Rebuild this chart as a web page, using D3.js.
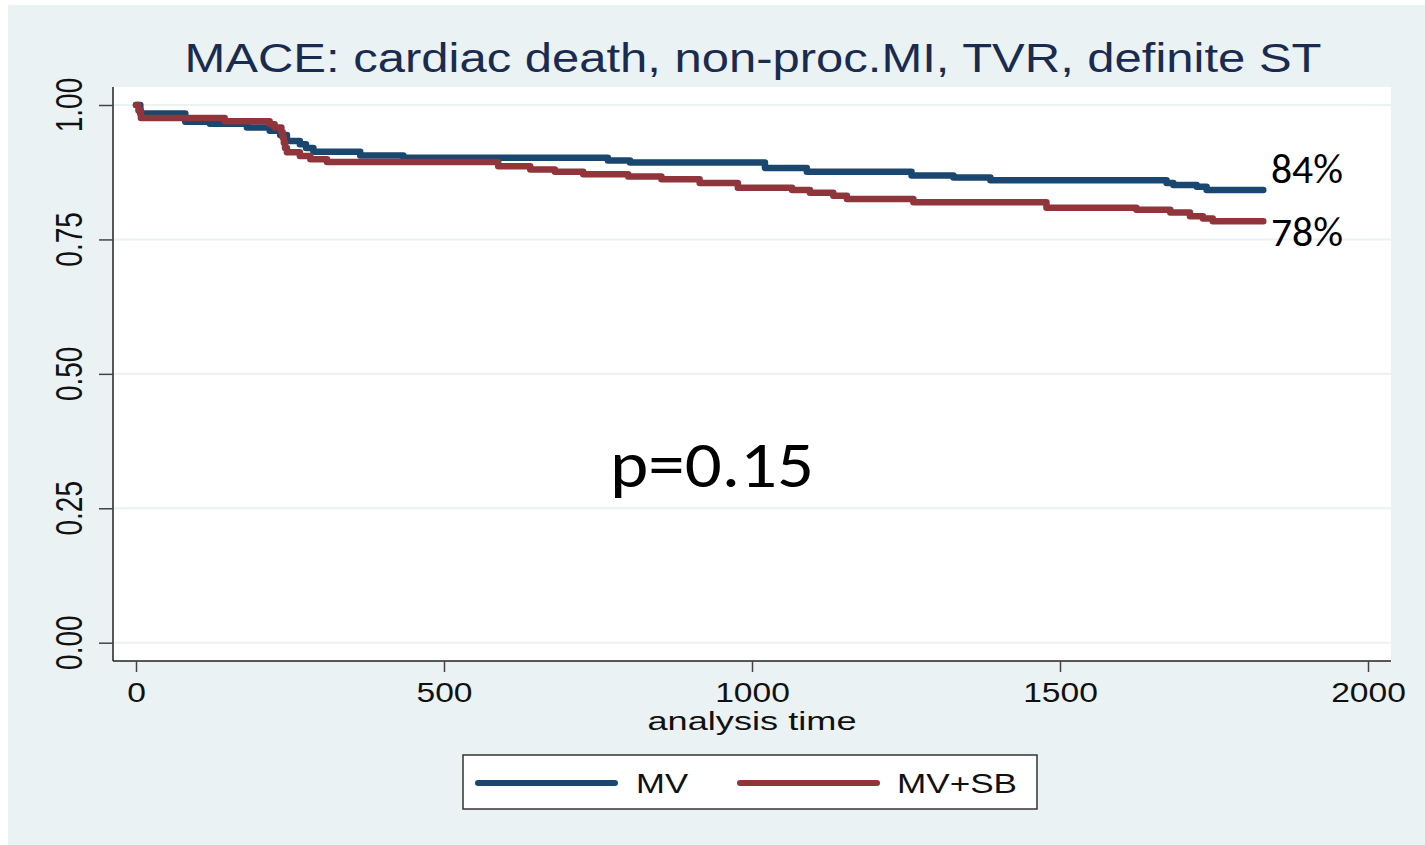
<!DOCTYPE html>
<html lang="en">
<head>
  <meta charset="UTF-8">
  <title>MACE Kaplan-Meier</title>
  <style>
    body { margin: 0; background: #fff; }
    .axis text { font-family: "Liberation Sans", Arial, sans-serif; fill: #111; }
  </style>
</head>
<body>
  <svg width="1425" height="845"></svg>
  <script src="https://cdn.jsdelivr.net/npm/d3@7"></script>
  <script>
    // data (step points: time, survival)
    var seriesNames = ["MV", "MV+SB"];
    var seriesColors = ["#1a476f", "#90353b"];

    var mvTime = [0, 7, 80, 120, 180, 217, 234, 245, 266, 276, 288, 364, 434, 766, 802, 1021, 1089, 1259, 1327, 1387, 1673, 1684, 1722, 1738, 1830];
    var mvSurv = [1.0, 0.984, 0.969, 0.965, 0.958, 0.952, 0.944, 0.933, 0.927, 0.92, 0.913, 0.906, 0.902, 0.897, 0.893, 0.883, 0.876, 0.869, 0.865, 0.86, 0.855, 0.851, 0.848, 0.842, 0.842];

    var sbTime = [0, 4, 8, 144, 217, 225, 236, 238, 240, 242, 245, 266, 283, 310, 588, 640, 680, 726, 799, 853, 915, 977, 1065, 1094, 1132, 1154, 1262, 1478, 1624, 1679, 1711, 1732, 1748, 1830];
    var sbSurv = [1.0, 0.99, 0.976, 0.97, 0.964, 0.958, 0.95, 0.94, 0.93, 0.92, 0.912, 0.905, 0.899, 0.894, 0.886, 0.88, 0.876, 0.871, 0.867, 0.862, 0.855, 0.846, 0.842, 0.837, 0.831, 0.825, 0.819, 0.809, 0.805, 0.8, 0.793, 0.789, 0.784, 0.784];

    var xTicks = [0, 500, 1000, 1500, 2000];
    var yTicks = [0, 0.25, 0.5, 0.75, 1];
    var endLabels = ["84%", "78%"];
    var pText = "p=0.15";
    var title = "MACE: cardiac death, non-proc.MI, TVR, definite ST";
    var xTitle = "analysis time";

    var svg = d3.select("svg");

    // graph region background
    svg.append("rect").attr("x", 8).attr("y", 5).attr("width", 1417).attr("height", 840).attr("fill", "#eaf2f3");

    var x = d3.scaleLinear().domain([0, 2000]).range([136, 1368]);
    var y = d3.scaleLinear().domain([0, 1]).range([642.7, 105]);

    var plot = {left: 113, right: 1391, top: 87, bottom: 661};

    // plot region
    svg.append("rect")
      .attr("x", plot.left).attr("y", plot.top)
      .attr("width", plot.right - plot.left).attr("height", plot.bottom - plot.top)
      .attr("fill", "#fff");

    // gridlines
    svg.append("g").selectAll("line")
      .data(yTicks)
      .enter().append("line")
      .attr("x1", plot.left).attr("x2", plot.right)
      .attr("y1", function(d) { return y(d); })
      .attr("y2", function(d) { return y(d); })
      .attr("stroke", "#eaf2f3").attr("stroke-width", 2);

    // x axis
    var gx = svg.append("g")
      .attr("class", "axis")
      .attr("transform", "translate(0," + plot.bottom + ")")
      .call(d3.axisBottom(x).tickValues(xTicks).tickSize(11).tickPadding(10).tickFormat(d3.format("d")));
    gx.select(".domain").attr("d", "M" + plot.left + ",0H" + plot.right).attr("stroke", "#222").attr("stroke-width", 1.5);
    gx.selectAll(".tick line").attr("stroke", "#444").attr("stroke-width", 1.5);
    gx.selectAll(".tick text")
      .attr("font-size", 28)
      .attr("transform", "scale(1.2,1)");

    // y axis
    var gy = svg.append("g")
      .attr("class", "axis")
      .attr("transform", "translate(" + plot.left + ",0)")
      .call(d3.axisLeft(y).tickValues(yTicks).tickSize(14).tickFormat(""));
    gy.select(".domain").attr("d", "M0," + plot.top + "V" + plot.bottom).attr("stroke", "#222").attr("stroke-width", 1.5);
    gy.selectAll(".tick line").attr("stroke", "#444").attr("stroke-width", 1.5);

    svg.append("g").attr("class", "axis").selectAll("text")
      .data(yTicks)
      .enter().append("text")
      .attr("transform", function(d) { return "translate(82," + y(d) + ") scale(1.33,1) rotate(-90)"; })
      .attr("text-anchor", "middle")
      .attr("font-size", 28)
      .text(d3.format(".2f"));

    // title
    svg.append("text")
      .attr("x", 753).attr("y", 72)
      .attr("text-anchor", "middle")
      .attr("font-family", "Liberation Sans, Arial, sans-serif")
      .attr("font-size", 40)
      .attr("fill", "#1a2b50")
      .attr("textLength", 1137).attr("lengthAdjust", "spacingAndGlyphs")
      .text(title);

    // x title
    svg.append("text")
      .attr("x", 752).attr("y", 730)
      .attr("text-anchor", "middle")
      .attr("font-family", "Liberation Sans, Arial, sans-serif")
      .attr("font-size", 26)
      .attr("fill", "#111")
      .attr("textLength", 209).attr("lengthAdjust", "spacingAndGlyphs")
      .text(xTitle);

    // survival curves
    var series = [
      {name: seriesNames[0], color: seriesColors[0], pts: d3.zip(mvTime, mvSurv)},
      {name: seriesNames[1], color: seriesColors[1], pts: d3.zip(sbTime, sbSurv)}
    ];

    var line = d3.line()
      .x(function(d) { return x(d[0]); })
      .y(function(d) { return y(d[1]); })
      .curve(d3.curveStepAfter);

    svg.append("g").selectAll("path")
      .data(series)
      .enter().append("path")
      .attr("d", function(d) { return line(d.pts); })
      .attr("fill", "none")
      .attr("stroke", function(d) { return d.color; })
      .attr("stroke-width", 6.5)
      .attr("stroke-linejoin", "round")
      .attr("stroke-linecap", "round");

    // end labels
    svg.append("g").selectAll("text")
      .data(series)
      .enter().append("text")
      .attr("x", 1271)
      .attr("y", function(d, i) { return i === 0 ? 183 : 246; })
      .attr("font-family", "Carlito, Calibri, Lato, sans-serif")
      .attr("font-size", 40)
      .attr("fill", "#000")
      .attr("textLength", 72).attr("lengthAdjust", "spacingAndGlyphs")
      .text(function(d, i) { return endLabels[i]; });

    svg.append("text")
      .attr("x", 610).attr("y", 487)
      .attr("font-family", "Carlito, Calibri, Lato, sans-serif")
      .attr("font-size", 66)
      .attr("fill", "#000")
      .attr("textLength", 204).attr("lengthAdjust", "spacingAndGlyphs")
      .text(pText);

    // legend
    var leg = svg.append("g");
    leg.append("rect")
      .attr("x", 463).attr("y", 755).attr("width", 574).attr("height", 54)
      .attr("fill", "#fff").attr("stroke", "#333").attr("stroke-width", 1.5);

    var legX = [478, 740];
    var legTextX = [636, 897];
    var legTextW = [52, 120];
    var item = leg.selectAll(".item")
      .data(series)
      .enter().append("g").attr("class", "item");
    item.append("line")
      .attr("x1", function(d, i) { return legX[i]; })
      .attr("x2", function(d, i) { return legX[i] + 137; })
      .attr("y1", 783).attr("y2", 783)
      .attr("stroke", function(d) { return d.color; })
      .attr("stroke-width", 6)
      .attr("stroke-linecap", "round");
    item.append("text")
      .attr("x", function(d, i) { return legTextX[i]; })
      .attr("y", 793)
      .attr("font-family", "Liberation Sans, Arial, sans-serif")
      .attr("font-size", 28)
      .attr("fill", "#111")
      .attr("textLength", function(d, i) { return legTextW[i]; })
      .attr("lengthAdjust", "spacingAndGlyphs")
      .text(function(d) { return d.name; });
  </script>
</body>
</html>
